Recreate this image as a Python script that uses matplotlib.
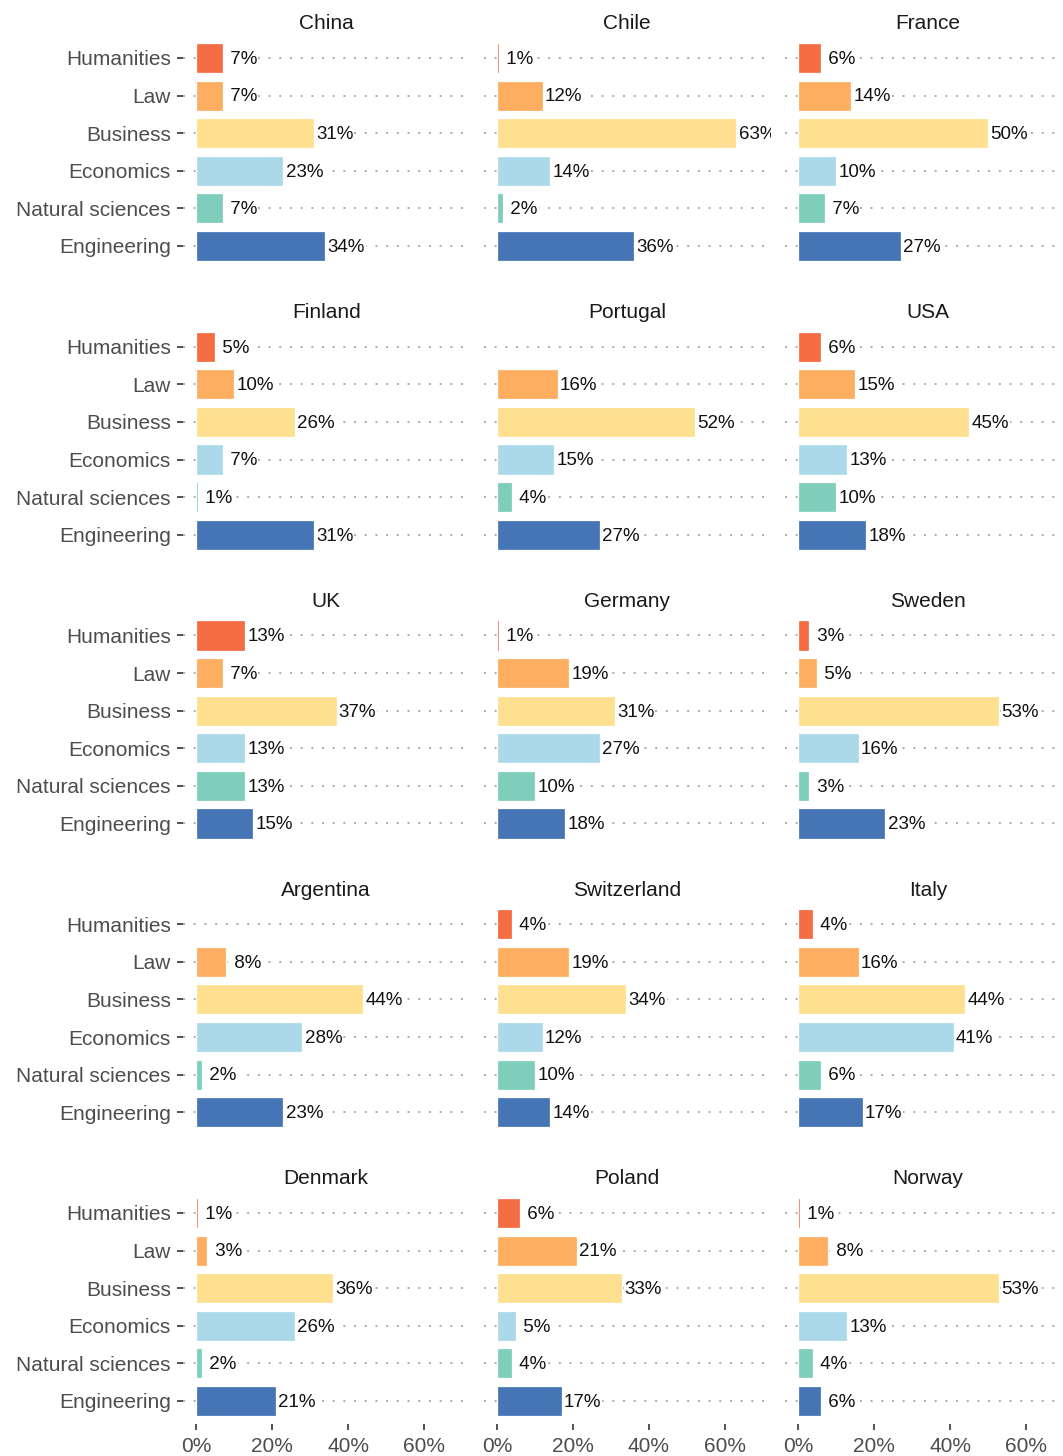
import numpy as np
import matplotlib.pyplot as plt
from matplotlib.ticker import FuncFormatter

plt.rcParams['font.family'] = ['Liberation Sans', 'DejaVu Sans']

# Data (share of graduates by field, %)
countries = ["China", "Chile", "France", "Finland", "Portugal", "USA",
             "UK", "Germany", "Sweden", "Argentina", "Switzerland", "Italy",
             "Denmark", "Poland", "Norway"]
fields = ["Humanities", "Law", "Business", "Economics", "Natural sciences", "Engineering"]

humanities  = [7, 0.55, 6, 5, 0, 6, 13, 0.55, 3, 0, 4, 4, 0.55, 6, 0.55]
law         = [7, 12, 14, 10, 16, 15, 7, 19, 5, 8, 19, 16, 3, 21, 8]
business    = [31, 63, 50, 26, 52, 45, 37, 31, 53, 44, 34, 44, 36, 33, 53]
economics   = [23, 14, 10, 7, 15, 13, 13, 27, 16, 28, 12, 41, 26, 5, 13]
natural_sci = [7, 1.6, 7, 0.55, 4, 10, 13, 10, 3, 1.6, 10, 6, 1.6, 4, 4]
engineering = [34, 36, 27, 31, 27, 18, 15, 18, 23, 23, 14, 17, 21, 17, 6]

colors = ["#F46D43", "#FDAE61", "#FEE090", "#ABD9E9", "#7FCDBB", "#4575B4"]

# Layout (pixels)
W, H = 1063, 1456
scale = 380              # px per unit share
x_lo, x_hi = -0.035, 0.72
col_zero = [196, 497, 798]
row_top = [58 - 22.6 + i * 288.75 for i in range(5)]
panel_h = 6.2 * 37.6

fig = plt.figure(figsize=(W / 100, H / 100), dpi=100)

for i, country in enumerate(countries):
    r, c = divmod(i, 3)
    left = (col_zero[c] + x_lo * scale) / W
    width = (x_hi - x_lo) * scale / W
    bottom = 1 - (row_top[r] + panel_h) / H
    ax = fig.add_axes([left, bottom, width, panel_h / H])

    vals = np.array([humanities[i], law[i], business[i], economics[i],
                     natural_sci[i], engineering[i]]) / 100
    y = np.arange(len(fields))
    ax.barh(y, vals, height=0.8, color=colors, edgecolor='white',
            linewidth=0.9, zorder=2)

    for yy, v in zip(y, vals):
        if v > 0:
            ax.annotate(f"{v * 100:2.0f}%", (v, yy), xytext=(1.6, -1),
                        textcoords='offset points', ha='left', va='center',
                        fontsize=13.5, color='#111111', zorder=3,
                        bbox=dict(boxstyle='square,pad=0.05', fc='white', ec='none'),
                        annotation_clip=False, clip_on=True)

    ax.set_xlim(x_lo, x_hi)
    ax.set_ylim(len(fields) - 0.4, -0.6)
    ax.set_yticks(y)
    ax.set_yticklabels(fields)
    ax.set_xticks([0, 0.2, 0.4, 0.6])
    ax.xaxis.set_major_formatter(FuncFormatter(lambda v, p: f"{v * 100:.0f}%"))

    ax.yaxis.grid(True, linestyle=(0, (1, 4.5)), color='#ababab', linewidth=1.4)
    ax.set_axisbelow(True)
    for s in ax.spines.values():
        s.set_visible(False)

    ax.tick_params(axis='y', length=4.5, width=1.2, color='#333333',
                   labelsize=15, labelcolor='#4d4d4d', pad=4)
    ax.tick_params(axis='x', length=4.5, width=1.2, color='#333333',
                   labelsize=15, labelcolor='#4d4d4d', pad=5)
    if c != 0:
        ax.tick_params(axis='y', left=False, labelleft=False)
    if r != 4:
        ax.tick_params(axis='x', bottom=False, labelbottom=False)

    ax.text(0.5, 1 + 11.5 / panel_h, country, transform=ax.transAxes,
            ha='center', va='center', fontsize=15, color='#1a1a1a')

fig.savefig('out.png', dpi=100)
